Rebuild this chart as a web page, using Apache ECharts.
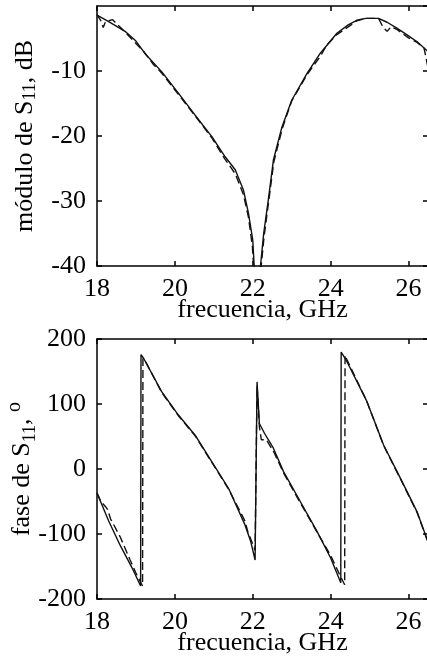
<!DOCTYPE html>
<html>
<head>
<meta charset="utf-8">
<script src="https://cdn.jsdelivr.net/npm/echarts@6/dist/echarts.min.js"></script>
<style>
  html, body { margin: 0; padding: 0; background: #fff; }
  #root { width: 427px; height: 656px; }
</style>
</head>
<body>
<div id="root"></div>
<script>
// magnitude of S11 (dB), solid = simulated, dashed = measured
const magFreqSolid = [18.0, 18.3, 18.72, 19.0, 19.23, 19.66, 20.09, 20.52, 20.95, 21.29, 21.55, 21.76, 21.89, 22.0, 22.04, 22.1,
  22.19, 22.28, 22.4, 22.53, 22.75, 23.0, 23.39, 23.73, 24.16, 24.45, 24.67, 24.9, 25.23, 25.45, 25.7, 26.0, 26.22, 26.5]
const magSolid = [-1.4, -2.4, -3.9, -5.4, -7.3, -10.1, -13.4, -16.8, -20.1, -23.2, -25.2, -28.3, -31.9, -36, -40.5, -60,
  -40.5, -35, -29.8, -23.7, -18.6, -14.5, -10.4, -7.3, -4.2, -2.9, -2.2, -1.9, -1.9, -2.5, -3.4, -4.6, -5.5, -7.0]

const magFreqDashed = [18.0, 18.1, 18.16, 18.22, 18.4, 18.72, 19.2, 19.45, 19.66, 20.09, 20.52, 20.95, 21.29, 21.55, 21.76, 21.89, 21.99, 22.03, 22.1,
  22.2, 22.29, 22.41, 22.54, 22.76, 23.0, 23.4, 23.75, 23.9, 24.16, 24.67, 24.9, 25.23, 25.35, 25.45, 25.55, 25.7, 26.0, 26.22, 26.4, 26.5]
const magDashed = [-1.3, -2.3, -3.3, -2.4, -2.1, -4.0, -7.0, -9.0, -10.3, -13.6, -16.9, -20.3, -23.6, -25.8, -29.0, -32.5, -37, -41, -60,
  -41, -35.5, -30, -24, -18.8, -14.6, -10.5, -7.6, -6.0, -4.4, -2.3, -1.9, -1.9, -3.3, -3.9, -3.2, -3.6, -4.9, -5.6, -6.5, -9.5]

// phase of S11 (degrees)
const phaseFreqSolid = [18.0, 18.3, 18.6, 18.9, 19.12, 19.13, 19.2, 19.66, 20.09, 20.52, 20.95, 21.38, 21.8, 21.95, 22.06, 22.11, 22.17, 22.3,
  22.53, 22.79, 23.22, 23.65, 24.0, 24.26, 24.27, 24.35, 24.42, 24.93, 25.36, 25.79, 26.22, 26.5]
const phaseSolid = [-37, -80, -118, -152, -180, 176, 170, 119, 83, 52, 11, -30, -86, -112, -140, 134, 70, 55,
  32, -4, -50, -96, -137, -175, 180, 172, 165, 104, 37, -14, -66, -112]

const phaseFreqDashed = [18.0, 18.1, 18.22, 18.27, 18.35, 18.6, 18.85, 19.0, 19.17, 19.18, 19.25, 19.66, 20.09, 20.52, 20.95, 21.38, 21.8, 21.88,
  21.95, 22.06, 22.11, 22.17, 22.22, 22.35, 22.55, 22.79, 23.22, 23.65, 24.0, 24.25, 24.36, 24.37, 24.42, 24.93, 25.36, 25.79, 26.22, 26.5]
const phaseDashed = [-37, -50, -58, -62, -77, -105, -140, -160, -180, 170, 165, 118, 82, 51, 10, -31, -80, -98,
  -108, -125, 128, 65, 45, 45, 25, -6, -52, -97, -133, -165, -178, 175, 168, 104, 36, -15, -67, -113]

const zip = (xs, ys) => xs.map((x, i) => [x, ys[i]])

const FONT = 'Liberation Serif'
const txt = { fontFamily: FONT, fontSize: 26, color: '#000' }
const lineStyle = { color: '#000', width: 1.5 }

const xAxisBase = (grid, pos, labels) => ({
  type: 'value', gridIndex: grid, position: pos, min: 18, max: 26.5, interval: 2,
  axisLine: { show: true, onZero: false, lineStyle },
  axisTick: { show: true, inside: true, length: 5, lineStyle },
  axisLabel: { show: labels, ...txt, margin: 10, showMaxLabel: false },
  splitLine: { show: false },
  name: labels ? 'frecuencia, GHz' : '',
  nameLocation: 'middle', nameGap: 31, nameMoveOverlap: false,
  nameTextStyle: txt
})

const yAxisBase = (grid, pos, min, max, step, labels, name) => ({
  type: 'value', gridIndex: grid, position: pos, min, max, interval: step,
  axisLine: { show: labels, onZero: false, lineStyle },
  axisTick: { show: true, inside: true, length: 5, lineStyle },
  axisLabel: { show: labels, ...txt, margin: 11 },
  splitLine: { show: false },
  name: labels ? name : '',
  nameLocation: 'middle', nameGap: 58, nameMoveOverlap: false,
  nameTextStyle: {
    ...txt,
    rich: {
      sub: { fontFamily: FONT, fontSize: 18, color: '#000', verticalAlign: 'bottom', padding: [10, 0, 0, 0] },
      sup: { fontFamily: FONT, fontSize: 20, color: '#000', verticalAlign: 'top', padding: [0, 0, 14, 0] }
    }
  }
})

const topY0 = yAxisBase(0, 'left', -40, 0, 10, true, 'módulo de S{sub|11}, dB')
topY0.axisLabel.showMaxLabel = false

const chart = echarts.init(document.getElementById('root'), null, { renderer: 'canvas' })
chart.setOption({
  animation: false,
  backgroundColor: '#fff',
  grid: [
    { left: 97, top: 6, width: 331, height: 260, containLabel: false, outerBoundsMode: 'none' },
    { left: 97, top: 339, width: 331, height: 260, containLabel: false, outerBoundsMode: 'none' }
  ],
  xAxis: [
    xAxisBase(0, 'bottom', true),
    xAxisBase(0, 'top', false),
    xAxisBase(1, 'bottom', true),
    xAxisBase(1, 'top', false)
  ],
  yAxis: [
    topY0,
    yAxisBase(0, 'right', -40, 0, 10, false),
    yAxisBase(1, 'left', -200, 200, 100, true, 'fase de S{sub|11}, {sup|o}'),
    yAxisBase(1, 'right', -200, 200, 100, false)
  ],
  series: [
    { type: 'line', xAxisIndex: 0, yAxisIndex: 0, data: zip(magFreqSolid, magSolid), showSymbol: false, lineStyle: { color: '#111', width: 1.4 } },
    { type: 'line', xAxisIndex: 0, yAxisIndex: 0, data: zip(magFreqDashed, magDashed), showSymbol: false, lineStyle: { color: '#111', width: 1.4, type: [8, 4] } },
    { type: 'line', xAxisIndex: 2, yAxisIndex: 2, data: zip(phaseFreqSolid, phaseSolid), showSymbol: false, lineStyle: { color: '#111', width: 1.4 } },
    { type: 'line', xAxisIndex: 2, yAxisIndex: 2, data: zip(phaseFreqDashed, phaseDashed), showSymbol: false, lineStyle: { color: '#111', width: 1.4, type: [8, 4] } }
  ]
})
</script>
</body>
</html>
